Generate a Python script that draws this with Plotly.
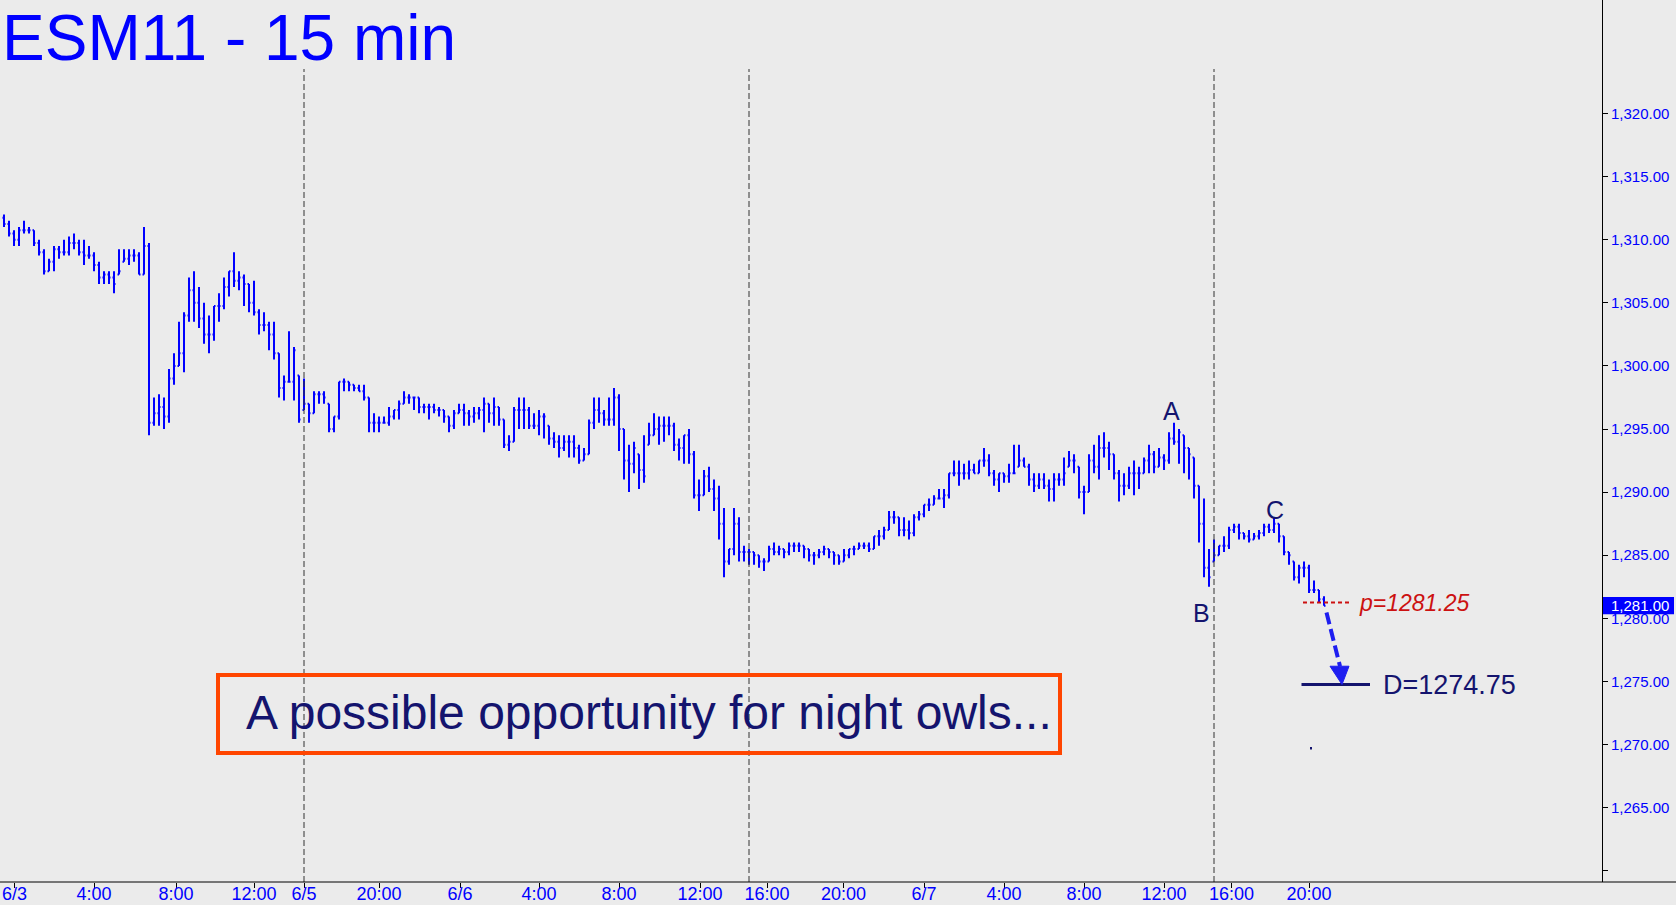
import plotly.graph_objects as go

# ---------------------------------------------------------------------------
# ESM11 15-minute bars, 6/3 through the evening of 6/7
# ---------------------------------------------------------------------------
opens = [
    1311.75, 1311.25, 1310.5, 1310.0, 1310.75, 1310.75, 1310.75, 1309.75, 1309.0, 1307.5,
    1308.25, 1309.25, 1309.0, 1309.0, 1309.75, 1309.75, 1309.0, 1308.75, 1308.75, 1308.0,
    1307.0, 1307.25, 1307.0, 1307.25, 1308.25, 1308.5, 1308.75, 1308.75, 1307.25, 1309.5,
    1295.5, 1296.25, 1296.75, 1296.0, 1299.0, 1300.0, 1301.0, 1304.0, 1306.0, 1305.0,
    1303.75, 1302.5, 1302.5, 1304.75, 1304.75, 1306.25, 1307.5, 1306.75, 1307.0, 1306.5,
    1305.0, 1304.25, 1303.25, 1303.25, 1302.5, 1301.0, 1298.25, 1298.75, 1298.75, 1299.25,
    1296.5, 1297.0, 1296.25, 1297.75, 1297.75, 1297.0, 1295.0, 1296.0, 1298.75, 1298.75,
    1298.5, 1298.25, 1298.0, 1297.5, 1295.5, 1295.5, 1295.5, 1295.5, 1296.0, 1296.5,
    1297.0, 1297.5, 1297.5, 1297.5, 1296.75, 1296.75, 1296.75, 1296.5, 1296.5, 1296.0,
    1295.25, 1296.25, 1296.5, 1296.25, 1296.0, 1296.25, 1296.5, 1297.0, 1296.25, 1296.75,
    1295.75, 1293.75, 1294.0, 1296.5, 1296.5, 1296.5, 1295.25, 1295.25, 1296.0, 1295.25,
    1294.25, 1294.0, 1293.5, 1294.0, 1294.0, 1293.5, 1292.5, 1293.0, 1295.5, 1296.5,
    1296.25, 1295.75, 1295.75, 1297.5, 1295.0, 1292.5, 1292.25, 1293.0, 1291.75, 1293.75,
    1294.5, 1295.0, 1295.25, 1295.25, 1295.25, 1293.75, 1293.5, 1294.5, 1293.0, 1289.75,
    1289.75, 1291.25, 1290.25, 1289.5, 1287.5, 1284.5, 1285.5, 1287.5, 1285.25, 1285.25,
    1285.25, 1285.0, 1284.5, 1284.5, 1285.5, 1285.25, 1285.5, 1285.25, 1285.75, 1285.75,
    1285.75, 1285.5, 1285.0, 1285.0, 1285.25, 1285.5, 1285.25, 1285.0, 1284.5, 1285.0,
    1285.5, 1285.5, 1285.75, 1285.75, 1285.5, 1286.5, 1286.5, 1287.0, 1288.0, 1288.0,
    1287.0, 1287.0, 1286.75, 1288.0, 1288.25, 1289.0, 1289.0, 1289.5, 1289.5, 1289.75,
    1291.5, 1291.5, 1291.5, 1291.5, 1291.75, 1291.5, 1292.5, 1292.5, 1291.5, 1291.0,
    1291.5, 1291.25, 1291.5, 1292.0, 1292.5, 1292.0, 1291.0, 1290.5, 1291.0, 1290.5,
    1290.25, 1291.0, 1291.0, 1292.0, 1292.5, 1292.0, 1290.0, 1290.0, 1292.5, 1292.0,
    1293.5, 1293.5, 1293.0, 1291.5, 1290.5, 1290.5, 1291.5, 1291.5, 1291.5, 1292.5,
    1293.0, 1292.0, 1292.75, 1292.5, 1294.25, 1294.0, 1294.5, 1293.5, 1292.75, 1290.5,
    1287.5, 1284.0, 1284.5, 1285.0, 1285.75, 1285.75, 1287.0, 1287.25, 1286.75, 1286.5,
    1286.25, 1286.5, 1286.75, 1287.25, 1287.0, 1287.5, 1286.5, 1285.25, 1284.5, 1283.25,
    1284.0, 1284.0, 1282.25, 1282.25, 1281.5,
]
highs = [
    1312.0, 1311.5, 1310.75, 1311.0, 1311.5, 1311.0, 1310.75, 1310.0, 1309.25, 1308.5,
    1309.5, 1309.5, 1310.0, 1310.25, 1310.5, 1310.0, 1310.0, 1309.5, 1309.0, 1308.25,
    1307.5, 1307.5, 1307.5, 1309.25, 1309.25, 1309.25, 1309.25, 1309.0, 1311.0, 1309.75,
    1297.5, 1297.75, 1297.5, 1299.75, 1301.0, 1303.5, 1304.25, 1307.0, 1307.5, 1306.25,
    1305.0, 1304.0, 1304.75, 1305.75, 1307.0, 1307.5, 1309.0, 1307.5, 1307.25, 1306.5,
    1306.75, 1304.5, 1304.25, 1303.5, 1303.5, 1301.0, 1299.25, 1302.75, 1301.5, 1299.25,
    1299.0, 1297.0, 1298.0, 1298.0, 1298.0, 1297.0, 1296.0, 1298.75, 1299.0, 1298.75,
    1298.5, 1298.5, 1298.5, 1297.5, 1296.25, 1296.0, 1296.0, 1296.75, 1296.5, 1297.25,
    1298.0, 1297.75, 1297.5, 1297.5, 1297.0, 1297.0, 1297.0, 1296.75, 1296.5, 1296.0,
    1296.5, 1297.0, 1297.0, 1296.5, 1296.75, 1296.75, 1297.5, 1297.0, 1297.5, 1296.75,
    1295.75, 1294.5, 1296.75, 1297.5, 1297.5, 1296.75, 1296.25, 1296.5, 1296.25, 1295.25,
    1294.75, 1294.5, 1294.5, 1294.5, 1294.5, 1293.75, 1293.5, 1295.75, 1297.5, 1297.5,
    1296.5, 1297.5, 1298.25, 1297.75, 1295.0, 1293.75, 1294.0, 1293.0, 1294.5, 1295.5,
    1296.25, 1296.0, 1296.0, 1296.0, 1295.5, 1294.25, 1294.5, 1295.0, 1293.25, 1291.0,
    1291.75, 1292.0, 1291.0, 1290.5, 1288.75, 1285.5, 1288.75, 1288.0, 1285.75, 1285.5,
    1285.25, 1285.0, 1284.75, 1285.75, 1286.0, 1285.75, 1285.5, 1286.0, 1286.0, 1286.0,
    1285.75, 1285.5, 1285.25, 1285.5, 1285.75, 1285.5, 1285.25, 1285.0, 1285.5, 1285.5,
    1285.75, 1286.0, 1286.0, 1286.0, 1286.5, 1287.0, 1287.25, 1288.5, 1288.5, 1288.0,
    1288.0, 1287.75, 1288.25, 1288.5, 1289.0, 1289.5, 1289.75, 1290.25, 1290.25, 1291.5,
    1292.5, 1292.5, 1292.25, 1292.5, 1292.25, 1292.5, 1293.5, 1293.0, 1291.75, 1291.5,
    1291.5, 1292.25, 1293.75, 1293.75, 1292.75, 1292.25, 1291.5, 1291.5, 1291.5, 1291.0,
    1291.5, 1291.5, 1292.75, 1293.25, 1293.0, 1292.0, 1290.5, 1293.0, 1293.75, 1294.5,
    1294.75, 1294.0, 1293.0, 1291.75, 1291.5, 1292.0, 1292.5, 1292.0, 1292.75, 1293.75,
    1293.25, 1293.5, 1293.0, 1294.75, 1295.5, 1295.0, 1294.5, 1293.5, 1292.75, 1290.5,
    1289.5, 1285.5, 1286.25, 1285.75, 1286.5, 1287.25, 1287.5, 1287.5, 1286.75, 1287.0,
    1286.75, 1287.0, 1287.5, 1287.5, 1288.0, 1287.5, 1286.5, 1285.25, 1284.5, 1284.25,
    1284.5, 1284.25, 1283.0, 1282.25, 1281.75,
]
lows = [
    1311.0, 1310.25, 1309.5, 1309.5, 1310.5, 1310.5, 1309.5, 1308.75, 1307.25, 1307.5,
    1307.5, 1308.5, 1308.75, 1308.75, 1309.25, 1308.75, 1308.0, 1308.5, 1307.5, 1306.5,
    1306.5, 1306.5, 1305.75, 1307.25, 1308.25, 1308.0, 1308.25, 1307.25, 1307.25, 1294.5,
    1295.25, 1295.25, 1295.0, 1295.5, 1298.5, 1300.0, 1299.5, 1303.5, 1303.5, 1303.0,
    1301.75, 1301.0, 1302.0, 1303.5, 1304.5, 1305.5, 1306.25, 1306.0, 1304.75, 1304.25,
    1304.0, 1302.5, 1302.75, 1301.25, 1300.5, 1297.5, 1297.25, 1298.75, 1297.25, 1295.5,
    1296.5, 1295.5, 1296.25, 1297.0, 1297.0, 1294.75, 1294.75, 1295.75, 1298.0, 1298.0,
    1298.0, 1298.0, 1297.25, 1294.75, 1294.75, 1294.75, 1295.5, 1295.25, 1295.75, 1295.75,
    1297.0, 1297.0, 1296.5, 1296.25, 1296.25, 1295.75, 1296.25, 1296.0, 1295.5, 1294.75,
    1295.0, 1296.25, 1295.25, 1295.25, 1295.5, 1295.75, 1294.75, 1295.5, 1295.25, 1295.25,
    1293.5, 1293.25, 1294.0, 1295.0, 1295.0, 1295.0, 1295.0, 1294.5, 1294.25, 1293.75,
    1293.5, 1292.75, 1293.25, 1292.75, 1292.75, 1292.25, 1292.5, 1293.0, 1295.0, 1295.5,
    1295.25, 1295.25, 1295.25, 1293.25, 1291.0, 1290.0, 1291.5, 1290.25, 1290.75, 1293.75,
    1294.5, 1293.75, 1294.0, 1294.5, 1293.25, 1292.5, 1292.25, 1292.25, 1289.5, 1288.5,
    1289.75, 1290.0, 1288.5, 1286.25, 1283.25, 1284.25, 1285.0, 1284.5, 1284.5, 1284.25,
    1284.25, 1284.0, 1283.75, 1284.5, 1285.0, 1285.0, 1284.75, 1285.0, 1285.25, 1285.25,
    1284.75, 1284.5, 1284.25, 1284.75, 1285.0, 1284.75, 1284.25, 1284.25, 1284.5, 1284.75,
    1285.0, 1285.5, 1285.5, 1285.25, 1285.5, 1285.75, 1286.25, 1287.0, 1287.5, 1286.5,
    1286.5, 1286.25, 1286.5, 1287.75, 1288.0, 1288.5, 1289.0, 1289.5, 1288.75, 1289.5,
    1291.25, 1290.5, 1291.0, 1291.0, 1291.5, 1291.5, 1292.0, 1291.25, 1290.5, 1290.0,
    1290.75, 1290.75, 1291.5, 1292.0, 1292.0, 1290.5, 1290.0, 1290.25, 1290.25, 1289.25,
    1289.25, 1290.5, 1290.5, 1292.0, 1291.5, 1289.5, 1288.25, 1290.0, 1291.5, 1291.0,
    1292.75, 1291.75, 1291.0, 1289.25, 1289.75, 1290.25, 1289.75, 1290.25, 1291.5, 1291.5,
    1291.5, 1292.0, 1291.75, 1292.25, 1293.75, 1292.25, 1291.5, 1291.0, 1289.5, 1286.0,
    1283.25, 1282.5, 1284.5, 1285.0, 1285.25, 1285.5, 1286.75, 1286.25, 1286.25, 1286.0,
    1286.25, 1286.25, 1286.5, 1286.75, 1286.75, 1286.0, 1285.0, 1284.25, 1283.0, 1282.75,
    1283.25, 1282.0, 1282.0, 1281.25, 1281.0,
]
closes = [
    1311.25, 1310.5, 1310.0, 1310.75, 1310.75, 1310.75, 1309.75, 1309.0, 1307.5, 1308.25,
    1309.25, 1309.0, 1309.0, 1309.75, 1309.75, 1309.0, 1308.75, 1308.75, 1308.0, 1307.0,
    1307.25, 1307.0, 1306.5, 1307.5, 1308.5, 1308.75, 1308.75, 1307.25, 1309.5, 1295.5,
    1296.25, 1296.75, 1296.0, 1299.0, 1300.0, 1301.0, 1304.0, 1306.0, 1305.0, 1303.75,
    1302.5, 1302.5, 1304.75, 1304.75, 1306.25, 1307.5, 1306.75, 1307.0, 1306.5, 1305.0,
    1304.25, 1303.25, 1303.25, 1302.5, 1301.0, 1298.25, 1298.75, 1298.75, 1301.25, 1295.75,
    1297.0, 1296.25, 1297.75, 1297.75, 1297.5, 1295.0, 1296.0, 1298.75, 1298.75, 1298.5,
    1298.25, 1298.0, 1297.5, 1295.5, 1295.5, 1295.5, 1295.5, 1296.0, 1296.5, 1297.0,
    1297.5, 1297.5, 1297.5, 1296.75, 1296.75, 1296.75, 1296.5, 1296.5, 1296.0, 1295.25,
    1296.25, 1296.5, 1296.25, 1296.0, 1296.25, 1296.5, 1297.0, 1296.25, 1296.75, 1295.75,
    1293.75, 1294.0, 1296.5, 1296.5, 1296.5, 1295.25, 1295.25, 1296.0, 1296.0, 1294.25,
    1294.0, 1293.5, 1294.0, 1294.0, 1293.5, 1292.5, 1293.0, 1295.5, 1296.5, 1296.25,
    1295.75, 1295.75, 1297.5, 1295.0, 1292.5, 1292.25, 1293.5, 1291.75, 1291.25, 1294.5,
    1295.0, 1295.25, 1295.25, 1295.25, 1293.75, 1293.5, 1294.5, 1293.0, 1289.75, 1289.75,
    1291.25, 1290.25, 1289.5, 1287.5, 1284.5, 1285.5, 1287.5, 1285.25, 1285.25, 1285.25,
    1285.0, 1284.5, 1284.5, 1285.5, 1285.25, 1285.5, 1285.25, 1285.75, 1285.75, 1285.75,
    1285.5, 1285.0, 1285.0, 1285.25, 1285.5, 1285.25, 1285.0, 1284.5, 1285.0, 1285.5,
    1285.5, 1285.75, 1285.75, 1285.5, 1286.5, 1286.5, 1287.0, 1288.0, 1288.0, 1287.0,
    1287.0, 1286.75, 1288.0, 1288.25, 1289.0, 1289.0, 1289.5, 1289.5, 1289.75, 1291.5,
    1291.5, 1291.5, 1291.5, 1291.75, 1291.5, 1292.5, 1292.5, 1291.5, 1291.0, 1291.5,
    1291.25, 1291.5, 1291.5, 1292.5, 1292.0, 1291.0, 1290.5, 1291.0, 1290.5, 1290.25,
    1291.0, 1291.0, 1291.5, 1292.5, 1292.5, 1290.0, 1290.0, 1292.5, 1292.0, 1293.5,
    1293.5, 1293.0, 1291.5, 1290.5, 1290.5, 1291.5, 1291.5, 1291.5, 1292.5, 1293.0,
    1292.0, 1292.75, 1292.5, 1294.25, 1294.0, 1294.75, 1293.5, 1293.0, 1290.5, 1287.5,
    1284.0, 1283.25, 1285.0, 1285.75, 1285.75, 1287.0, 1287.25, 1286.75, 1286.5, 1286.25,
    1286.5, 1286.75, 1287.25, 1287.0, 1287.5, 1286.5, 1285.25, 1285.0, 1283.25, 1284.0,
    1284.0, 1282.25, 1282.25, 1281.5, 1281.0,
]
bar_index = list(range(len(closes)))

# Time axis labels and the bar slots they sit on
tick_labels = ["6/3", "4:00", "8:00", "12:00", "6/5", "20:00", "6/6", "4:00", "8:00",
               "12:00", "16:00", "20:00", "6/7", "4:00", "8:00", "12:00", "16:00", "20:00"]
tick_bars = [2.1, 18, 34.4, 50, 60, 75, 91.2, 107, 123, 139.2, 152.6, 167.9,
             184, 200, 216, 232, 245.5, 261]
session_breaks = [60, 149, 242]

# Price axis
price_ticks = [1260, 1265, 1270, 1275, 1280, 1285, 1290, 1295, 1300, 1305, 1310, 1315, 1320]

# Trade set-up
wave_labels = ["A", "B", "C"]
wave_bars = [233.5, 239.5, 254.2]
wave_prices = [1296.4, 1280.4, 1288.6]
entry_price = 1281.25
target_price = 1274.75
note_text = "A possible opportunity for night owls..."
title_text = "ESM11 - 15 min"

# ---------------------------------------------------------------------------
W, H = 1676, 905
PW, PH = 1602, 882          # plot area (right price scale and time scale outside)
BG = "#ebebeb"
BLUE = "#0000ff"
NAVY = "#14146e"
FONT = "Liberation Sans, Arial, sans-serif"
NARROW = "Liberation Sans Narrow, Arial Narrow, Liberation Sans, sans-serif"


def px(x):
    return x / PW


def py(y):
    return 1 - y / PH


fig = go.Figure(go.Ohlc(
    x=bar_index, open=opens, high=highs, low=lows, close=closes,
    increasing=dict(line=dict(color=BLUE, width=2)),
    decreasing=dict(line=dict(color=BLUE, width=2)),
    tickwidth=0.3, hoverinfo="skip", showlegend=False,
))

price_text = ["" if v == price_ticks[0] else f"{v:,.2f}" for v in price_ticks]

fig.update_layout(
    width=W, height=H,
    margin=dict(l=0, r=W - PW, t=0, b=H - PH, autoexpand=False),
    paper_bgcolor=BG, plot_bgcolor=BG,
    showlegend=False,
    xaxis=dict(
        range=[-0.8, 319.6], tickmode="array", tickvals=tick_bars, ticktext=tick_labels,
        showgrid=False, zeroline=False, showline=False, automargin=False,
        ticks="outside", ticklen=5, tickcolor="black", tickwidth=1,
        ticklabelstandoff=-10,
        tickfont=dict(family=NARROW, size=18, color=BLUE),
        rangeslider=dict(visible=False), fixedrange=True,
    ),
    yaxis=dict(
        side="right", range=[1259.1, 1329.0], tickmode="array",
        tickvals=price_ticks, ticktext=price_text, automargin=False,
        showgrid=False, zeroline=False, showline=True, linecolor="black", linewidth=1,
        ticks="outside", ticklen=5, tickcolor="black", tickwidth=1,
        tickfont=dict(family=FONT, size=15, color=BLUE), fixedrange=True,
    ),
)

shapes = []
# session separators
for b in session_breaks:
    shapes.append(dict(type="line", xref="x", yref="paper", x0=b, x1=b,
                       y0=0, y1=py(69), line=dict(color="#333333", width=1, dash="6px,3px")))
# time scale baseline running under the price scale too
shapes.append(dict(type="line", xref="paper", yref="paper", x0=0, x1=W / PW, y0=0, y1=0,
                   line=dict(color="black", width=1)))
# note box
shapes.append(dict(type="rect", xref="paper", yref="paper",
                   x0=px(218), x1=px(1060), y0=py(753), y1=py(675),
                   line=dict(color="#ff4500", width=4), fillcolor="rgba(0,0,0,0)"))
# entry level (red dashed)
shapes.append(dict(type="line", xref="x", yref="y", x0=259.8, x1=269.6,
                   y0=entry_price, y1=entry_price,
                   line=dict(color="#cc1111", width=2, dash="4px,3px")))
# target level
shapes.append(dict(type="line", xref="x", yref="y", x0=259.5, x1=273.2,
                   y0=target_price, y1=target_price,
                   line=dict(color=NAVY, width=3)))
# projected path from entry to target
head_h = 1.45
shapes.append(dict(type="line", xref="x", yref="y", x0=264.5, x1=267.2,
                   y0=entry_price - 0.8, y1=target_price + head_h,
                   line=dict(color="#1e1ef0", width=4, dash="12px,5px")))
shapes.append(dict(type="path", xref="x", yref="y",
                   path=f"M 265.2 {target_price + head_h} L 269.0 {target_price + head_h} "
                        f"L 267.6 {target_price} Z",
                   fillcolor="#1e1ef0", line=dict(color="#1e1ef0", width=1)))
# stray point below the target
shapes.append(dict(type="rect", xref="x", yref="y", x0=261.2, x1=261.6,
                   y0=1269.6, y1=1269.8, fillcolor=NAVY, line=dict(width=0)))
# last-price flag on the price scale
last = closes[-1]
shapes.append(dict(type="rect", xref="paper", yref="y", x0=px(1603), x1=px(1674),
                   y0=last - 0.68, y1=last + 0.68, fillcolor=BLUE, line=dict(width=0)))
fig.update_layout(shapes=shapes)

ann = []
ann.append(dict(text=title_text, xref="paper", yref="paper", x=px(0), y=1.0,
                xanchor="left", yanchor="top", showarrow=False,
                font=dict(family=FONT, size=64, color=BLUE)))
ann.append(dict(text=note_text, xref="paper", yref="paper", x=px(244), y=py(712),
                xanchor="left", yanchor="middle", showarrow=False,
                font=dict(family=FONT, size=48, color=NAVY)))
for lab, b, p in zip(wave_labels, wave_bars, wave_prices):
    ann.append(dict(text=lab, xref="x", yref="y", x=b, y=p, showarrow=False,
                    xanchor="center", yanchor="middle",
                    font=dict(family=FONT, size=25, color=NAVY)))
ann.append(dict(text=f"p={entry_price:.2f}", xref="x", yref="y", x=270.6, y=entry_price,
                xanchor="left", yanchor="middle", showarrow=False,
                font=dict(family=FONT, size=23, color="#cc1111", style="italic")))
ann.append(dict(text=f"D={target_price:.2f}", xref="x", yref="y", x=275.4, y=target_price,
                xanchor="left", yanchor="middle", showarrow=False,
                font=dict(family=FONT, size=27, color=NAVY)))
ann.append(dict(text=f"{last:,.2f}", xref="paper", yref="y", x=px(1609), y=last,
                xanchor="left", yanchor="middle", showarrow=False,
                font=dict(family=FONT, size=15, color="white")))
fig.update_layout(annotations=ann)

fig.write_html("out.html")
